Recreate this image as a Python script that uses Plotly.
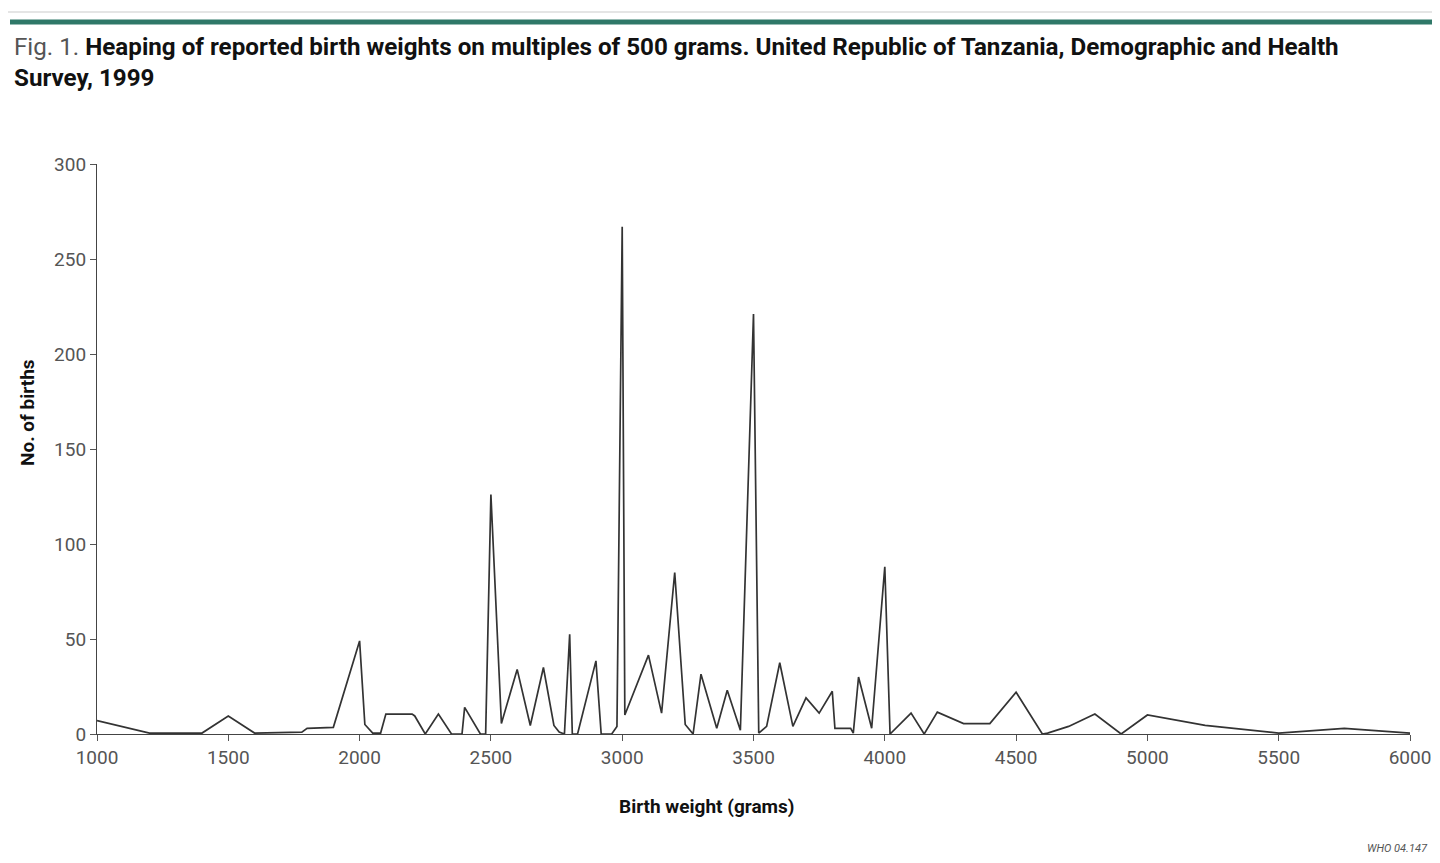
import plotly.graph_objects as go

weights = [1000, 1200, 1400, 1500, 1600, 1780, 1800, 1900, 2000, 2020, 2050, 2080,
           2100, 2200, 2210, 2250, 2300, 2350, 2390, 2400, 2460, 2480, 2500, 2540,
           2600, 2650, 2700, 2740, 2760, 2780, 2800, 2810, 2830, 2900, 2920, 2960,
           2980, 3000, 3010, 3100, 3150, 3200, 3240, 3270, 3300, 3360, 3400, 3450,
           3500, 3520, 3550, 3600, 3650, 3700, 3750, 3800, 3810, 3870, 3880, 3900,
           3950, 4000, 4020, 4100, 4150, 4200, 4300, 4400, 4500, 4600, 4620, 4700,
           4800, 4900, 5000, 5220, 5500, 5750, 6000]
births = [7, 0.5, 0.5, 9.5, 0.5, 1, 3, 3.5, 49, 5, 0.5, 0.5,
          10.5, 10.5, 9.5, 0, 10.5, 0, 0, 14, 0, 0, 126, 5.5,
          34, 4.5, 35, 4.5, 1, 0, 52.5, 0, 0, 38.5, 0, 0,
          4, 267, 10, 41.5, 11, 85, 5, 0, 31.5, 3, 23, 2,
          221, 0.5, 4, 37.5, 4, 19, 11, 22.5, 3, 3, 0.5, 30,
          3, 88, 0, 11, 0, 11.5, 5.5, 5.5, 22, 0, 0.5, 4,
          10.5, 0, 10, 4.5, 0.5, 3, 0.5]

x_ticks = [1000, 1500, 2000, 2500, 3000, 3500, 4000, 4500, 5000, 5500, 6000]
y_ticks = [0, 50, 100, 150, 200, 250, 300]

title_prefix = "Fig. 1."
title_main = "Heaping of reported birth weights on multiples of 500 grams. United Republic of Tanzania, Demographic and Health"
title_line2 = "Survey, 1999"
x_title = "Birth weight (grams)"
y_title = "No. of births"
credit = "WHO 04.147"

# The page has an 8px body margin; the figure is sized to fit inside it without scrolling.
OFF = 8
W, H = 1440 - 2 * OFF, 863 - 2 * OFF
PLOT_LEFT, PLOT_RIGHT, PLOT_TOP, PLOT_BOTTOM = 97, 1410, 164, 734  # page pixels
L = PLOT_LEFT - OFF
R = (OFF + W) - PLOT_RIGHT
T = PLOT_TOP - OFF
B = (OFF + H) - PLOT_BOTTOM
FONT = "Roboto, Arial, sans-serif"


def px(xp):
    """page x pixel -> paper coordinate"""
    return (xp - OFF - L) / (W - L - R)


def py(yp):
    """page y pixel -> paper coordinate"""
    return (H - B - (yp - OFF)) / (H - B - T)


fig = go.Figure()
fig.add_trace(go.Scatter(x=weights, y=births, mode="lines",
                         line=dict(color="#333333", width=1.7), hoverinfo="x+y"))

axis_common = dict(ticks="outside", ticklen=6, tickcolor="#555555", showgrid=False,
                   zeroline=False, showline=True, linecolor="#444444", linewidth=1.2,
                   ticklabeloverflow="allow", automargin=False,
                   tickfont=dict(size=19, color="#555555", family=FONT))

fig.update_layout(
    width=W, height=H, autosize=False,
    margin=dict(l=L, r=R, t=T, b=B, autoexpand=False),
    paper_bgcolor="white", plot_bgcolor="white",
    showlegend=False,
    font=dict(family=FONT, color="#444444"),
    xaxis=dict(range=[1000, 6000], tickvals=x_ticks, **axis_common),
    yaxis=dict(range=[0, 300], tickvals=y_ticks, **axis_common),
)

shapes = [
    dict(type="line", xref="paper", yref="paper", x0=px(8), x1=px(1432), y0=py(12), y1=py(12),
         line=dict(color="#dddddd", width=1.5)),
    dict(type="line", xref="paper", yref="paper", x0=px(10), x1=px(1432), y0=py(22), y1=py(22),
         line=dict(color="#2f7868", width=5)),
]
fig.update_layout(shapes=shapes)

annotations = [
    dict(xref="paper", yref="paper", x=px(12), y=py(31), xanchor="left", yanchor="top",
         align="left", showarrow=False,
         text=(f"<span style='color:#555555;font-weight:normal'>{title_prefix}</span> "
               f"<b>{title_main}</b><br><b>{title_line2}</b>"),
         font=dict(size=24.2, color="#111111", family=FONT)),
    dict(xref="paper", yref="paper", x=px(706), y=py(806), xanchor="center", yanchor="middle",
         showarrow=False, text=f"<b>{x_title}</b>",
         font=dict(size=19, color="#111111", family=FONT)),
    dict(xref="paper", yref="paper", x=px(27), y=py(413), xanchor="center", yanchor="middle",
         showarrow=False, textangle=-90, text=f"<b>{y_title}</b>",
         font=dict(size=19, color="#111111", family=FONT)),
    dict(xref="paper", yref="paper", x=px(1430), y=py(848), xanchor="right", yanchor="middle",
         showarrow=False, text=f"<i>{credit}</i>",
         font=dict(size=11, color="#555555", family=FONT)),
]
fig.update_layout(annotations=annotations)

fig.write_html("out.html", config={"responsive": False})
